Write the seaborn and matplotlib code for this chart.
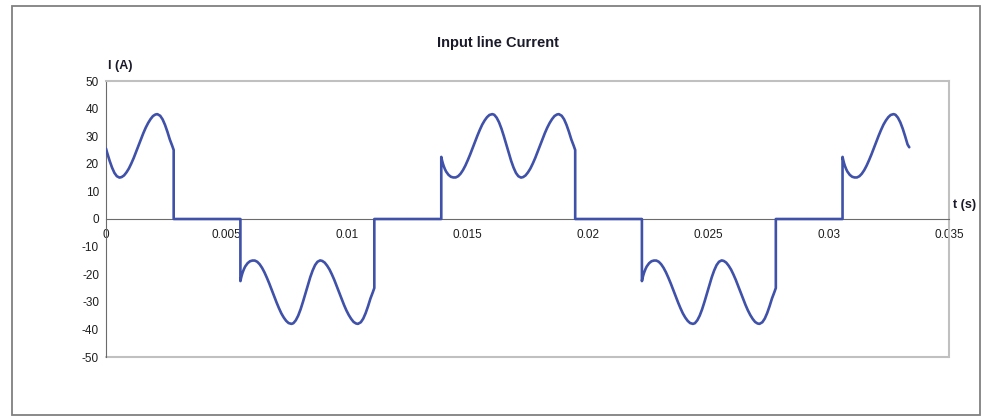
import numpy as np
import pandas as pd
import seaborn as sns
import matplotlib.pyplot as plt
from matplotlib.patches import Rectangle

# line current, one list pair per conduction pulse
# (t in s, I in A); zero stretches join the pulses
t_p1 = [0.0, 0.00005, 0.00015, 0.00025, 0.00035, 0.00045, 0.00056, 0.00065, 0.00075,
        0.00085, 0.00095, 0.00105, 0.00115, 0.00125, 0.00135, 0.00145, 0.00155, 0.00165,
        0.00175, 0.00185, 0.00195, 0.00205, 0.00213, 0.00225, 0.00235, 0.00245, 0.00255,
        0.00265, 0.00275, 0.00281, 0.00281]
i_p1 = [25.5, 23.95, 21.1, 18.65, 16.7, 15.5, 15.0, 15.2, 15.8,
        16.9, 18.3, 20.1, 22.1, 24.3, 26.6, 28.9, 31.1, 33.1,
        34.8, 36.2, 37.3, 37.85, 38.0, 37.4, 36.1, 34.1, 31.6,
        28.8, 26.5, 25.0, 0.0]

t_n1 = [0.00558, 0.00558, 0.00561, 0.00564, 0.00568, 0.00573, 0.00578, 0.00588, 0.00598,
        0.00608, 0.00618, 0.00628, 0.00638, 0.00648, 0.00658, 0.00668, 0.00678, 0.00688,
        0.00698, 0.00708, 0.00718, 0.00728, 0.00738, 0.00748, 0.00758, 0.0077, 0.00778,
        0.00788, 0.00798, 0.00808, 0.00818, 0.00828, 0.00838, 0.00848, 0.00858, 0.00868,
        0.00878, 0.00889, 0.00898, 0.00908, 0.00918, 0.00928, 0.00938, 0.00948, 0.00958,
        0.00968, 0.00978, 0.00988, 0.00998, 0.01008, 0.01018, 0.01028, 0.01038, 0.01046,
        0.01058, 0.01068, 0.01078, 0.01088, 0.01098, 0.01108, 0.01114, 0.01114]
i_n1 = [0.0, -22.5, -21.3, -20.3, -19.2, -18.1, -17.2, -16.0, -15.3,
        -15.05, -15.06, -15.5, -16.4, -17.7, -19.35, -21.3, -23.4, -25.7,
        -28.0, -30.2, -32.3, -34.2, -35.7, -36.9, -37.7, -38.0, -37.75,
        -36.7, -35.0, -32.7, -29.95, -27.0, -23.95, -21.1, -18.65, -16.7,
        -15.5, -15.0, -15.2, -15.8, -16.9, -18.3, -20.1, -22.1, -24.3,
        -26.6, -28.9, -31.1, -33.1, -34.8, -36.2, -37.3, -37.85, -38.0,
        -37.4, -36.1, -34.1, -31.6, -28.8, -26.5, -25.0, 0.0]

t_p2 = [0.01392, 0.01392, 0.01395, 0.01398, 0.01402, 0.01407, 0.01412, 0.01422, 0.01432,
        0.01442, 0.01452, 0.01462, 0.01472, 0.01482, 0.01492, 0.01502, 0.01512, 0.01522,
        0.01532, 0.01542, 0.01552, 0.01562, 0.01572, 0.01582, 0.01592, 0.01604, 0.01612,
        0.01622, 0.01632, 0.01642, 0.01652, 0.01662, 0.01672, 0.01682, 0.01692, 0.01702,
        0.01712, 0.01723, 0.01732, 0.01742, 0.01752, 0.01762, 0.01772, 0.01782, 0.01792,
        0.01802, 0.01812, 0.01822, 0.01832, 0.01842, 0.01852, 0.01862, 0.01872, 0.0188,
        0.01892, 0.01902, 0.01912, 0.01922, 0.01932, 0.01942, 0.01948, 0.01948]
i_p2 = [0.0, 22.5, 21.3, 20.3, 19.2, 18.1, 17.2, 16.0, 15.3,
        15.05, 15.06, 15.5, 16.4, 17.7, 19.35, 21.3, 23.4, 25.7,
        28.0, 30.2, 32.3, 34.2, 35.7, 36.9, 37.7, 38.0, 37.75,
        36.7, 35.0, 32.7, 29.95, 27.0, 23.95, 21.1, 18.65, 16.7,
        15.5, 15.0, 15.2, 15.8, 16.9, 18.3, 20.1, 22.1, 24.3,
        26.6, 28.9, 31.1, 33.1, 34.8, 36.2, 37.3, 37.85, 38.0,
        37.4, 36.1, 34.1, 31.6, 28.8, 26.5, 25.0, 0.0]

t_n2 = [0.02225, 0.02225, 0.02228, 0.02231, 0.02235, 0.0224, 0.02245, 0.02255, 0.02265,
        0.02275, 0.02285, 0.02295, 0.02305, 0.02315, 0.02325, 0.02335, 0.02345, 0.02355,
        0.02365, 0.02375, 0.02385, 0.02395, 0.02405, 0.02415, 0.02425, 0.02437, 0.02445,
        0.02455, 0.02465, 0.02475, 0.02485, 0.02495, 0.02505, 0.02515, 0.02525, 0.02535,
        0.02545, 0.02556, 0.02565, 0.02575, 0.02585, 0.02595, 0.02605, 0.02615, 0.02625,
        0.02635, 0.02645, 0.02655, 0.02665, 0.02675, 0.02685, 0.02695, 0.02705, 0.02713,
        0.02725, 0.02735, 0.02745, 0.02755, 0.02765, 0.02775, 0.02781, 0.02781]
i_n2 = [0.0, -22.5, -21.3, -20.3, -19.2, -18.1, -17.2, -16.0, -15.3,
        -15.05, -15.06, -15.5, -16.4, -17.7, -19.35, -21.3, -23.4, -25.7,
        -28.0, -30.2, -32.3, -34.2, -35.7, -36.9, -37.7, -38.0, -37.75,
        -36.7, -35.0, -32.7, -29.95, -27.0, -23.95, -21.1, -18.65, -16.7,
        -15.5, -15.0, -15.2, -15.8, -16.9, -18.3, -20.1, -22.1, -24.3,
        -26.6, -28.9, -31.1, -33.1, -34.8, -36.2, -37.3, -37.85, -38.0,
        -37.4, -36.1, -34.1, -31.6, -28.8, -26.5, -25.0, 0.0]

t_p3 = [0.03058, 0.03058, 0.03061, 0.03064, 0.03068, 0.03073, 0.03078, 0.03088, 0.03098,
        0.03108, 0.03118, 0.03128, 0.03138, 0.03148, 0.03158, 0.03168, 0.03178, 0.03188,
        0.03198, 0.03208, 0.03218, 0.03228, 0.03238, 0.03248, 0.03258, 0.0327, 0.03278,
        0.03288, 0.03298, 0.03308, 0.03318, 0.03328, 0.03335]
i_p3 = [0.0, 22.5, 21.3, 20.3, 19.2, 18.1, 17.2, 16.0, 15.3,
        15.05, 15.06, 15.5, 16.4, 17.7, 19.35, 21.3, 23.4, 25.7,
        28.0, 30.2, 32.3, 34.2, 35.7, 36.9, 37.7, 38.0, 37.75,
        36.7, 35.0, 32.7, 29.95, 27.0, 26.0]

x_ticks = [0, 0.005, 0.01, 0.015, 0.02, 0.025, 0.03, 0.035]
x_labels = ["0", "0.005", "0.01", "0.015", "0.02", "0.025", "0.03", "0.035"]
y_ticks = [50, 40, 30, 20, 10, 0, -10, -20, -30, -40, -50]

sns.set_style("white")
plt.rcParams['font.family'] = ['Liberation Sans', 'DejaVu Sans']
plt.rcParams['axes.unicode_minus'] = False

df = pd.DataFrame({"t": t_p1 + t_n1 + t_p2 + t_n2 + t_p3,
                   "I": i_p1 + i_n1 + i_p2 + i_n2 + i_p3})

fig = plt.figure(figsize=(9.88, 4.16), dpi=100)
ax = fig.add_axes([106 / 988, 1 - 357 / 416, 843 / 988, 276 / 416])

# outer chart frame
fig.patches.append(Rectangle((12 / 988, 1 - 415 / 416), 968 / 988, 409 / 416,
                             transform=fig.transFigure, fill=False,
                             edgecolor="#808080", linewidth=1.3))

sns.lineplot(data=df, x="t", y="I", estimator=None, sort=False,
             color="#3f51a9", linewidth=1.9, ax=ax, zorder=3,
             solid_joinstyle="round", solid_capstyle="round")

ax.set_xlim(0, 0.035)
ax.set_ylim(-50, 50)

# x axis runs through zero, plot box drawn in light gray
ax.spines['bottom'].set_position(('data', 0))
ax.spines['bottom'].set_color("#6b6b6b")
ax.spines['left'].set_color("#6b6b6b")
for s in ['top', 'right']:
    ax.spines[s].set_color("#c0c0c0")
    ax.spines[s].set_linewidth(1.5)
ax.axhline(-50, color="#c0c0c0", linewidth=1.5, clip_on=False, zorder=1)

ax.set_xticks(x_ticks)
ax.set_xticklabels(x_labels)
ax.set_yticks(y_ticks)
ax.tick_params(axis='both', direction='out', length=3, width=1,
               color="#6b6b6b", labelsize=8.5, labelcolor="#1e1e1e", pad=2)
ax.tick_params(axis='x', pad=4)
ax.set_xlabel("")
ax.set_ylabel("")

fig.text(498 / 988, 1 - 43 / 416, "Input line Current", ha="center", va="center",
         fontsize=10.5, fontweight="bold", color="#1a1a2a")
fig.text(108 / 988, 1 - 66 / 416, "I (A)", ha="left", va="center",
         fontsize=9, fontweight="bold", color="#1a1a2a")
fig.text(953 / 988, 1 - 205 / 416, "t (s)", ha="left", va="center",
         fontsize=9, fontweight="bold", color="#1a1a2a")

fig.savefig("out.png", dpi=100)
